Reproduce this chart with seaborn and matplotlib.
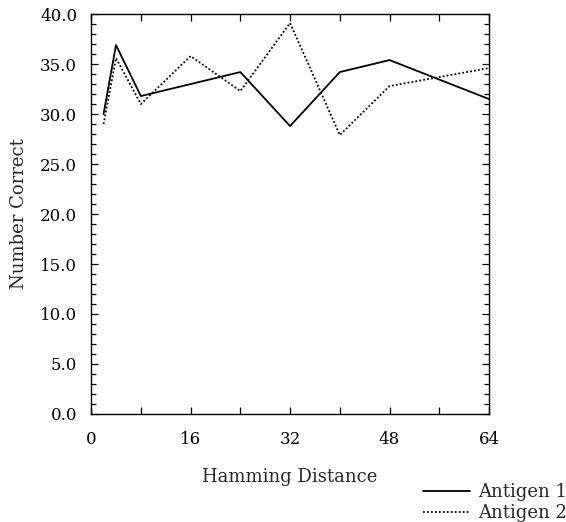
import matplotlib
matplotlib.use("Agg")
import matplotlib.pyplot as plt
import seaborn as sns
import pandas as pd
from matplotlib.ticker import MultipleLocator, FormatStrFormatter

# values
hamming_a1 = [2, 4, 8, 24, 32, 40, 48, 64]
correct_a1 = [30.0, 36.9, 31.8, 34.2, 28.8, 34.2, 35.4, 31.5]

hamming_a2 = [2, 4, 8, 16, 24, 32, 40, 48, 64]
correct_a2 = [29.0, 35.6, 31.0, 35.8, 32.3, 39.1, 27.9, 32.8, 34.6]

x_ticks = [0, 16, 32, 48, 64]

sns.set_style("ticks")
plt.rcParams["font.family"] = ["DejaVu Serif"]
plt.rcParams["font.size"] = 12

df1 = pd.DataFrame({"Hamming Distance": hamming_a1, "Number Correct": correct_a1})
df2 = pd.DataFrame({"Hamming Distance": hamming_a2, "Number Correct": correct_a2})

fig = plt.figure(figsize=(5.66, 5.22), dpi=100)
ax = fig.add_axes([0.161, 0.207, 0.703, 0.766])

sns.lineplot(data=df1, x="Hamming Distance", y="Number Correct", ax=ax,
             color="black", linewidth=1.3, linestyle="-", label="Antigen 1")
sns.lineplot(data=df2, x="Hamming Distance", y="Number Correct", ax=ax,
             color="black", linewidth=1.3, linestyle=(0, (1, 1.2)), label="Antigen 2")

ax.set_xlim(0, 64)
ax.set_ylim(0, 40)
ax.set_xticks(x_ticks)
ax.xaxis.set_minor_locator(MultipleLocator(8))
ax.yaxis.set_major_locator(MultipleLocator(5))
ax.yaxis.set_minor_locator(MultipleLocator(1))
ax.yaxis.set_major_formatter(FormatStrFormatter("%.1f"))

for side in ["top", "right", "left", "bottom"]:
    ax.spines[side].set_visible(True)
    ax.spines[side].set_linewidth(1.0)
    ax.spines[side].set_color("black")

ax.tick_params(which="both", direction="in", top=True, right=True,
               colors="black", labelsize=12, width=0.9)
ax.tick_params(which="major", length=5)
ax.tick_params(which="minor", length=3.5)
ax.tick_params(axis="x", which="minor", length=5)
ax.tick_params(axis="x", which="major", pad=12)
ax.tick_params(axis="y", which="major", pad=10)

ax.set_xlabel("Hamming Distance", fontsize=13, labelpad=15)
ax.set_ylabel("Number Correct", fontsize=13, labelpad=9)

handles, labels = ax.get_legend_handles_labels()
ax.get_legend().remove()
fig.legend(handles, labels, loc="lower right", bbox_to_anchor=(1.025, -0.025),
           frameon=False, fontsize=13, handlelength=2.6, handletextpad=0.45,
           labelspacing=0.17, borderpad=0.2)

fig.savefig("out.png", dpi=100, facecolor="white")
